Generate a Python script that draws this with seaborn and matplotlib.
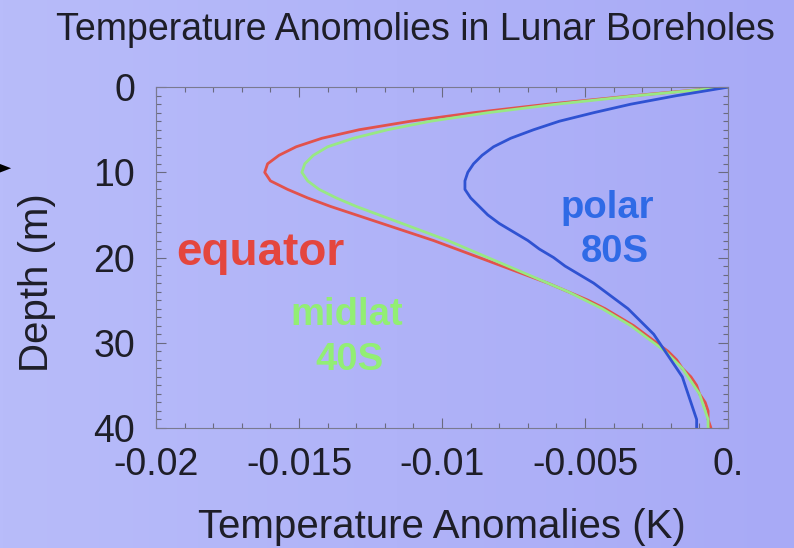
#import needed modules
import numpy as np
import pandas as pd
import matplotlib
matplotlib.use('Agg')
import matplotlib.pyplot as plt
import matplotlib.ticker as mticker
from matplotlib.patches import Polygon
import seaborn as sns

#values: depth (m) and temperature anomaly (K) per site
depth = [0, 0.5, 1, 2, 3, 4, 5, 6, 7, 8, 9, 10, 11, 12, 13, 14, 15, 16, 17, 18, 19, 20,
         21, 22, 23, 24, 25, 26, 27, 28, 29, 30, 31, 32, 33, 34, 35, 36, 37, 38, 39, 40]
equator = [0, -0.0017, -0.0033, -0.0063, -0.0089, -0.0111, -0.0129, -0.0142, -0.0151, -0.0157,
           -0.0161, -0.0162, -0.0160, -0.0154, -0.0147, -0.0139, -0.0130, -0.0121, -0.0112,
           -0.0103, -0.0095, -0.0087, -0.0079, -0.0071, -0.0063, -0.0056, -0.0049, -0.0043,
           -0.0038, -0.0033, -0.0029, -0.0025, -0.0021, -0.0018, -0.0016, -0.0013, -0.0011,
           -0.0010, -0.0008, -0.0007, -0.0007, -0.0006]
midlat = [0, -0.0016, -0.0032, -0.0060, -0.0084, -0.0104, -0.0119, -0.0131, -0.0140, -0.0145,
          -0.0148, -0.0149, -0.0147, -0.0143, -0.0137, -0.0130, -0.0122, -0.0114, -0.0106,
          -0.0098, -0.0091, -0.0084, -0.0077, -0.0070, -0.0063, -0.0056, -0.0050, -0.0044,
          -0.0039, -0.0034, -0.0030, -0.0026, -0.0022, -0.0019, -0.0016, -0.0014, -0.0012,
          -0.0010, -0.0009, -0.0008, -0.0007, -0.0007]
polar = [0, -0.0009, -0.0018, -0.0034, -0.0047, -0.0059, -0.0068, -0.0076, -0.0082, -0.0086,
         -0.0089, -0.0091, -0.0092, -0.0092, -0.0090, -0.0087, -0.0084, -0.0080, -0.0075,
         -0.0070, -0.0066, -0.0061, -0.0057, -0.0052, -0.0047, -0.0043, -0.0039, -0.0035,
         -0.0032, -0.0029, -0.0026, -0.0024, -0.0022, -0.0020, -0.0018, -0.0016, -0.0015,
         -0.0014, -0.0013, -0.0012, -0.0011, -0.0011]

sites = ['equator', 'midlat', 'polar']
x_ticks = [-0.02, -0.015, -0.01, -0.005, 0.0]
x_tick_labels = ['-0.02', '-0.015', '-0.01', '-0.005', '0.']
y_ticks = [0, 10, 20, 30, 40]

#long table for seaborn
df = pd.concat([
    pd.DataFrame({'depth': depth, 'anomaly': equator, 'site': 'equator'}),
    pd.DataFrame({'depth': depth, 'anomaly': midlat, 'site': 'midlat'}),
    pd.DataFrame({'depth': depth, 'anomaly': polar, 'site': 'polar'}),
])

sns.set_theme(style='ticks')
plt.rcParams['font.family'] = ['Liberation Sans', 'DejaVu Sans']
ink = '#1e1e28'

fig = plt.figure(figsize=(7.94, 5.48), dpi=100)

#lavender slide background, slightly lighter at the left
bg = fig.add_axes([0, 0, 1, 1], zorder=-2)
grad = np.linspace(0, 1, 256)[None, :]
c0 = np.array([184, 188, 250]) / 255
c1 = np.array([168, 170, 246]) / 255
img = c0[None, None, :] * (1 - grad[..., None]) + c1[None, None, :] * grad[..., None]
bg.imshow(img, aspect='auto', extent=[0, 1, 0, 1])
bg.axis('off')

ax = fig.add_axes([0.1965, 0.219, 0.7205, 0.622])
ax.set_facecolor('none')

palette = {'equator': '#e2524c', 'midlat': '#98e884', 'polar': '#2f52d2'}
sns.lineplot(data=df, x='anomaly', y='depth', hue='site', hue_order=sites, palette=palette,
             orient='y', legend=False, linewidth=2.0, ax=ax)
for ln in ax.lines:
    ln.set_solid_joinstyle('round')

ax.set_xlim(-0.02, 0.0)
ax.set_ylim(40, 0)
ax.set_xticks(x_ticks)
ax.set_xticklabels(x_tick_labels)
ax.set_yticks(y_ticks)
ax.xaxis.set_minor_locator(mticker.MultipleLocator(0.001))
ax.yaxis.set_minor_locator(mticker.MultipleLocator(1))
ax.tick_params(which='both', direction='in', top=True, right=True, color='#6a6a80', width=0.8)
ax.tick_params(which='major', length=7, labelsize=27, labelcolor=ink)
ax.tick_params(which='minor', length=3.5)
ax.tick_params(axis='x', which='major', pad=14)
ax.tick_params(axis='y', which='major', pad=15)
for s in ax.spines.values():
    s.set_color('#7a7a90')
    s.set_linewidth(0.8)

ax.set_xlabel('Temperature Anomalies (K)', fontsize=29, color=ink)
ax.set_ylabel('Depth (m)', fontsize=29, color=ink)
ax.xaxis.set_label_coords(0.5, -0.235)
ax.yaxis.set_label_coords(-0.175, 0.425)

#curve labels
ax.text(-0.01636, 20.9, 'equator', color='#e4463e', fontsize=33, fontweight='bold', ha='center', va='baseline')
ax.text(-0.01332, 27.9, 'midlat', color='#92ee74', fontsize=27.5, fontweight='bold', ha='center', va='baseline')
ax.text(-0.01322, 33.2, '40S', color='#92ee74', fontsize=27.5, fontweight='bold', ha='center', va='baseline')
ax.text(-0.00423, 15.3, 'polar', color='#2f6ae6', fontsize=27.5, fontweight='bold', ha='center', va='baseline')
ax.text(-0.00395, 20.5, '80S', color='#2f6ae6', fontsize=27.5, fontweight='bold', ha='center', va='baseline')

fig.text(0.523, 0.978, 'Temperature Anomolies in Lunar Boreholes', fontsize=27, color=ink,
         ha='center', va='top')

#pointer arrow left over from the slide (only its tip shows)
fig.add_artist(Polygon([[-0.004, 0.703], [-0.004, 0.683], [0.014, 0.693]], closed=True,
                       transform=fig.transFigure, color='black', lw=0))

fig.savefig('out.png', dpi=100)
